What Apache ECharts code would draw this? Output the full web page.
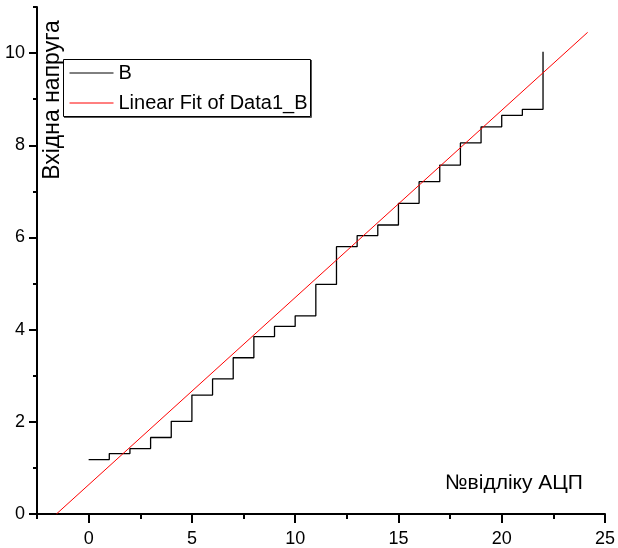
<!DOCTYPE html>
<html>
<head>
<meta charset="utf-8">
<script src="https://cdn.jsdelivr.net/npm/echarts@6/dist/echarts.min.js"></script>
<style>
  html, body { margin: 0; padding: 0; background: #fff; }
  #chart { width: 618px; height: 548px; }
</style>
</head>
<body>
<div id="chart"></div>
<script>
// ADC sample number and measured input voltage (step characteristic)
const sampleNo = [0, 1, 2, 3, 4, 5, 6, 7, 8, 9, 10, 11, 12, 13, 14, 15, 16, 17, 18, 19, 20, 21, 22];
const voltage = [1.18, 1.31, 1.42, 1.66, 2.01, 2.58, 2.93, 3.39, 3.85, 4.07, 4.30, 4.98,
                 5.80, 6.04, 6.27, 6.74, 7.21, 7.57, 8.05, 8.40, 8.65, 8.78, 10.03];

// Linear fit line end points
const fitX = [-1.56, 24.16];
const fitY = [0, 10.45];

// Axis tick positions
const xMajor = [0, 5, 10, 15, 20, 25];
const xMinor = [-2.5, 2.5, 7.5, 12.5, 17.5, 22.5];
const yMajor = [0, 2, 4, 6, 8, 10];
const yMinor = [1, 3, 5, 7, 9, 11];

const FONT = 'Liberation Sans, Arial, sans-serif';

const stepData = sampleNo.map((x, i) => [x, voltage[i]]);
const fitData = fitX.map((x, i) => [x, fitY[i]]);

const chart = echarts.init(document.getElementById('chart'), null, { renderer: 'canvas' });

const axisLineStyle = { color: '#000', width: 2 };

chart.setOption({
  animation: false,
  backgroundColor: '#fff',
  grid: { left: 37, right: 12, top: 7, bottom: 33 },
  xAxis: [
    {
      type: 'value', min: -2.5, max: 25, interval: 2.5, position: 'bottom',
      axisLine: { show: true, onZero: false, lineStyle: axisLineStyle },
      axisTick: { show: true, customValues: xMajor, length: 9, lineStyle: { color: '#000', width: 2 } },
      axisLabel: { customValues: xMajor, fontSize: 18, color: '#000', fontFamily: FONT, margin: 16 },
      splitLine: { show: false }
    },
    {
      type: 'value', min: -2.5, max: 25, interval: 2.5, position: 'bottom',
      axisLine: { show: false, onZero: false },
      axisTick: { show: true, customValues: xMinor, length: 5, lineStyle: { color: '#000', width: 2 } },
      axisLabel: { show: false },
      splitLine: { show: false }
    }
  ],
  yAxis: [
    {
      type: 'value', min: 0, max: 11, interval: 2, position: 'left',
      axisLine: { show: true, onZero: false, lineStyle: axisLineStyle },
      axisTick: { show: true, customValues: yMajor, length: 8, lineStyle: { color: '#000', width: 2 } },
      axisLabel: { customValues: yMajor, fontSize: 18, color: '#000', fontFamily: FONT, margin: 12 },
      splitLine: { show: false }
    },
    {
      type: 'value', min: 0, max: 11, interval: 2, position: 'left',
      axisLine: { show: false, onZero: false },
      axisTick: { show: true, customValues: yMinor, length: 4, lineStyle: { color: '#000', width: 2 } },
      axisLabel: { show: false },
      splitLine: { show: false }
    }
  ],
  legend: {
    orient: 'vertical',
    left: 69, top: 62,
    padding: 0,
    itemWidth: 44, itemHeight: 14, itemGap: 8,
    itemStyle: { opacity: 0 },
    lineStyle: { width: 1 },
    textStyle: { fontSize: 20, color: '#000', fontFamily: FONT, lineHeight: 22 },
    data: ['B', 'Linear Fit of Data1_B']
  },
  series: [
    {
      name: 'B', type: 'line', step: 'end', data: stepData,
      symbol: 'none', lineStyle: { color: '#000', width: 1.3 }, itemStyle: { color: '#000' }
    },
    {
      name: 'Linear Fit of Data1_B', type: 'line', data: fitData,
      symbol: 'none', lineStyle: { color: '#ff0000', width: 1 }, itemStyle: { color: '#ff0000' }
    }
  ],
  graphic: [
    // legend frame with a thin drop shadow on the right and bottom
    { type: 'line', shape: { x1: 311.5, y1: 60, x2: 311.5, y2: 117.5 }, style: { stroke: '#555', lineWidth: 1 }, z: 100 },
    { type: 'line', shape: { x1: 64, y1: 117.5, x2: 311.5, y2: 117.5 }, style: { stroke: '#555', lineWidth: 1 }, z: 100 },
    { type: 'rect', shape: { x: 63.5, y: 59.5, width: 247, height: 57 }, style: { fill: 'none', stroke: '#000', lineWidth: 1 }, z: 100 },
    // axis titles
    {
      type: 'text', x: 52.5, y: 100, rotation: Math.PI / 2,
      style: { text: 'Вхідна напруга', fontSize: 23, fontFamily: FONT, fill: '#000', align: 'center', verticalAlign: 'middle' },
      z: 100
    },
    {
      type: 'text', x: 514, y: 483,
      style: { text: '№відліку АЦП', fontSize: 21, fontFamily: FONT, fill: '#000', align: 'center', verticalAlign: 'middle' },
      z: 100
    }
  ]
});
</script>
</body>
</html>
